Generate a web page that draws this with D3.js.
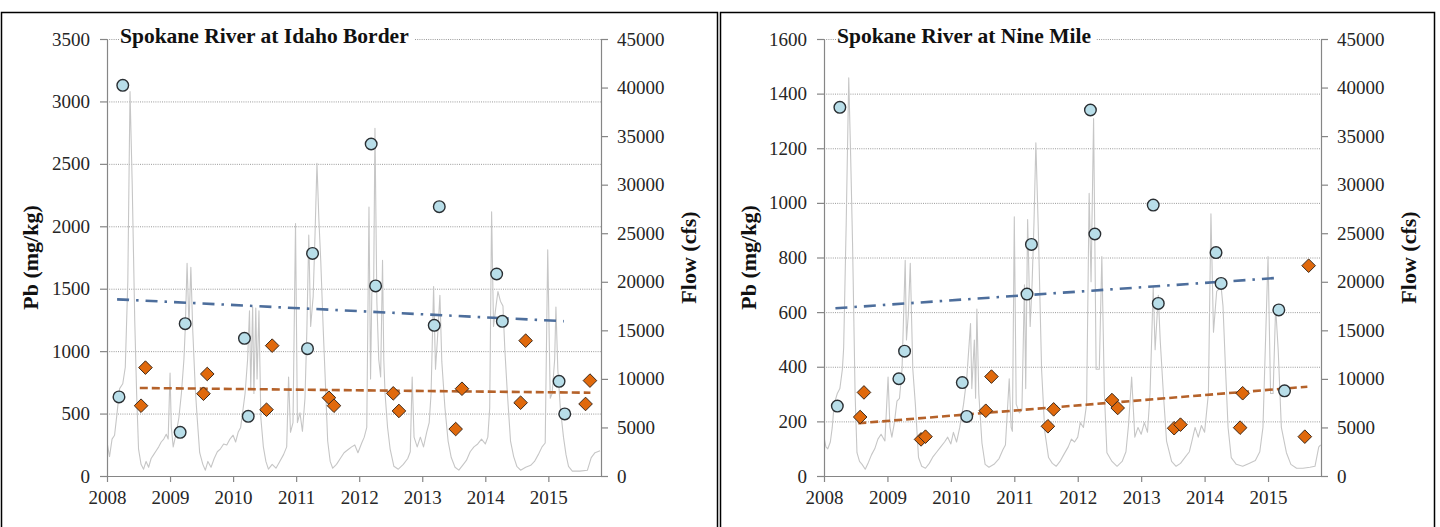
<!DOCTYPE html>
<html>
<head>
<meta charset="utf-8">
<script src="https://cdn.jsdelivr.net/npm/d3@7"></script>
<style>
  body { margin: 0; background: #fff; }
  svg { display: block; }
</style>
</head>
<body>
<svg id="chart" width="1440" height="527"></svg>
<script>
// ---------- data ----------
const yearTicks = [2008, 2009, 2010, 2011, 2012, 2013, 2014, 2015];
const flowTicks = [0, 5000, 10000, 15000, 20000, 25000, 30000, 35000, 40000, 45000];
const idahoPbTicks = [0, 500, 1000, 1500, 2000, 2500, 3000, 3500];
const nineMilePbTicks = [0, 200, 400, 600, 800, 1000, 1200, 1400, 1600];

// Spring (circle) and summer (diamond) Pb samples, mg/kg, dates in decimal years
const idahoSpringDates = [2008.19, 2008.25, 2009.16, 2009.24, 2010.18, 2010.24, 2011.18, 2011.26,
                          2012.19, 2012.26, 2013.19, 2013.27, 2014.18, 2014.27, 2015.17, 2015.26];
const idahoSpringPb    = [633, 3129, 350, 1220, 1103, 478, 1020, 1783,
                          2659, 1522, 1207, 2157, 1618, 1239, 758, 497];
const idahoSummerDates = [2008.54, 2008.61, 2009.53, 2009.59, 2010.53, 2010.62, 2011.52, 2011.60,
                          2012.54, 2012.63, 2013.53, 2013.63, 2014.56, 2014.64, 2015.59, 2015.66];
const idahoSummerPb    = [563, 868, 659, 817, 531, 1044, 627, 563,
                          662, 521, 376, 699, 587, 1084, 577, 764];

const nineMileSpringDates = [2008.21, 2008.25, 2009.18, 2009.27, 2010.18, 2010.25, 2011.20, 2011.27,
                             2012.20, 2012.27, 2013.19, 2013.27, 2014.18, 2014.26, 2015.17, 2015.26];
const nineMileSpringPb    = [256, 1350, 356, 457, 342, 218, 666, 848,
                             1340, 886, 992, 632, 818, 705, 608, 312];
const nineMileSummerDates = [2008.57, 2008.63, 2009.53, 2009.60, 2010.55, 2010.64, 2011.53, 2011.62,
                             2012.54, 2012.63, 2013.52, 2013.62, 2014.56, 2014.60, 2015.58, 2015.64];
const nineMileSummerPb    = [216, 306, 134, 144, 239, 364, 182, 244,
                             278, 249, 175, 188, 177, 303, 144, 770];

// Linear trend lines [start, end] as [date, Pb]
const idahoSpringTrend    = [[2008.16, 1415], [2015.245, 1240]];
const idahoSummerTrend    = [[2008.52, 705], [2015.667, 667]];
const nineMileSpringTrend = [[2008.18, 614], [2015.195, 726]];
const nineMileSummerTrend = [[2008.54, 193], [2015.62, 327]];

// River flow, cfs, [date, flow]
const idahoFlow = [
  [2008.00,3500],[2008.04,2000],[2008.08,3800],[2008.12,4200],[2008.16,6500],[2008.20,9000],
  [2008.25,9500],[2008.29,11200],[2008.33,20000],[2008.365,39600],[2008.40,30000],[2008.44,16000],
  [2008.47,8500],[2008.50,2800],[2008.54,1200],[2008.58,700],[2008.62,1500],[2008.66,900],
  [2008.70,1800],[2008.74,2200],[2008.78,2600],[2008.82,3000],[2008.86,3500],[2008.90,3800],
  [2008.94,4300],[2008.97,3800],[2009.00,10600],[2009.02,5000],[2009.05,3000],[2009.10,4500],
  [2009.14,6000],[2009.18,8500],[2009.22,12000],[2009.24,15000],[2009.27,21900],[2009.30,15500],
  [2009.33,21500],[2009.36,15000],[2009.40,9000],[2009.43,6000],[2009.47,2400],[2009.52,1200],
  [2009.56,600],[2009.60,1500],[2009.65,900],[2009.70,1800],[2009.75,2500],[2009.80,2800],
  [2009.85,3300],[2009.90,3200],[2009.95,3800],[2010.00,4200],[2010.04,3500],[2010.08,4500],
  [2010.12,5000],[2010.16,7000],[2010.19,8500],[2010.23,12000],[2010.26,17000],[2010.28,9000],
  [2010.31,17400],[2010.33,8500],[2010.36,17300],[2010.38,10000],[2010.41,17000],[2010.44,6000],
  [2010.48,3000],[2010.52,1500],[2010.56,700],[2010.62,1200],[2010.68,800],[2010.74,1500],
  [2010.80,2200],[2010.85,3000],[2010.88,10200],[2010.91,4500],[2010.95,5500],[2010.99,26000],
  [2011.02,5500],[2011.06,6500],[2011.10,4600],[2011.14,8000],[2011.17,15000],[2011.20,24800],
  [2011.23,15400],[2011.27,18500],[2011.30,25000],[2011.33,32200],[2011.36,26500],[2011.39,22200],
  [2011.43,15000],[2011.46,10200],[2011.50,3600],[2011.54,1500],[2011.58,800],[2011.64,1200],
  [2011.70,1800],[2011.76,2400],[2011.82,2700],[2011.88,3000],[2011.93,3200],[2011.98,2400],
  [2012.04,3400],[2012.08,4000],[2012.12,5000],[2012.155,27700],[2012.18,10000],[2012.20,18800],
  [2012.23,20000],[2012.25,35800],[2012.28,18000],[2012.31,12000],[2012.34,10200],[2012.37,22200],
  [2012.39,12000],[2012.41,8500],[2012.45,5000],[2012.49,2800],[2012.55,1000],[2012.62,700],
  [2012.70,1200],[2012.77,1800],[2012.81,2500],[2012.84,10200],[2012.87,4000],[2012.92,3000],
  [2012.97,4000],[2013.02,3000],[2013.07,4500],[2013.11,5500],[2013.14,8500],[2013.18,19500],
  [2013.21,11000],[2013.24,14000],[2013.28,18600],[2013.31,11800],[2013.36,7000],[2013.41,3600],
  [2013.46,1900],[2013.52,900],[2013.58,600],[2013.64,1100],[2013.70,1600],[2013.76,2500],
  [2013.82,3000],[2013.88,3300],[2013.94,3800],[2014.00,3300],[2014.04,4000],[2014.07,7000],
  [2014.10,27200],[2014.13,15400],[2014.16,17000],[2014.20,19000],[2014.24,18000],[2014.28,17500],
  [2014.31,13000],[2014.35,8500],[2014.40,3600],[2014.45,2000],[2014.50,1000],[2014.56,600],
  [2014.64,900],[2014.72,1100],[2014.78,1500],[2014.84,2200],[2014.90,3000],[2014.95,3400],
  [2014.99,23300],[2015.03,8000],[2015.06,8500],[2015.10,12000],[2015.12,17400],[2015.15,11000],
  [2015.19,7000],[2015.24,4000],[2015.28,2200],[2015.32,1000],[2015.38,500],[2015.50,500],
  [2015.62,600],[2015.68,1900],[2015.74,2400],[2015.82,2600]
];

const nineMileFlow = [
  [2008.00,4000],[2008.03,3000],[2008.06,2800],[2008.10,3500],[2008.13,5000],[2008.16,7400],
  [2008.21,8500],[2008.25,9000],[2008.29,11000],[2008.31,13200],[2008.35,26000],[2008.39,41000],
  [2008.42,33000],[2008.45,24000],[2008.49,8500],[2008.52,2400],[2008.56,1500],[2008.60,1200],
  [2008.65,700],[2008.70,1400],[2008.75,2200],[2008.80,2800],[2008.85,3800],[2008.90,4300],
  [2008.96,3600],[2009.01,10200],[2009.04,5000],[2009.07,4000],[2009.11,5500],[2009.15,7700],
  [2009.19,8000],[2009.23,11000],[2009.28,22200],[2009.30,14000],[2009.33,16700],[2009.36,21900],
  [2009.40,11000],[2009.44,7400],[2009.49,1900],[2009.54,1000],[2009.60,800],[2009.66,1300],
  [2009.72,2000],[2009.78,2500],[2009.84,3000],[2009.90,3500],[2009.95,4000],[2010.00,3300],
  [2010.04,4500],[2010.09,3500],[2010.14,5000],[2010.20,7400],[2010.25,10000],[2010.31,15700],
  [2010.33,9000],[2010.37,14000],[2010.39,8000],[2010.41,17200],[2010.44,8500],[2010.49,3400],
  [2010.54,1200],[2010.60,900],[2010.68,1200],[2010.76,1800],[2010.82,2700],[2010.86,3200],
  [2010.92,10000],[2010.95,5000],[2010.97,4600],[2011.00,26700],[2011.03,7400],[2011.08,6500],
  [2011.12,6800],[2011.16,19700],[2011.18,9000],[2011.21,26400],[2011.25,15400],[2011.28,19700],
  [2011.31,26000],[2011.34,34300],[2011.38,25000],[2011.43,11000],[2011.48,4600],[2011.54,1900],
  [2011.60,1300],[2011.66,1000],[2011.72,1500],[2011.78,2200],[2011.85,3000],[2011.90,3800],
  [2011.95,3500],[2012.00,4000],[2012.04,5500],[2012.09,5000],[2012.14,7400],[2012.18,29100],
  [2012.21,20000],[2012.25,36800],[2012.29,11000],[2012.34,11000],[2012.38,22600],[2012.42,8500],
  [2012.46,2400],[2012.54,1500],[2012.62,1000],[2012.70,1500],[2012.76,2500],[2012.80,5200],
  [2012.85,10200],[2012.90,4000],[2012.95,5000],[2013.00,4300],[2013.05,5500],[2013.10,4500],
  [2013.14,8500],[2013.19,19500],[2013.22,13000],[2013.27,18600],[2013.30,14000],[2013.35,8500],
  [2013.40,3600],[2013.48,1500],[2013.55,1000],[2013.62,1300],[2013.70,2000],[2013.76,2500],
  [2013.80,3600],[2013.85,5000],[2013.90,4000],[2013.95,5200],[2014.00,4500],[2014.06,8500],
  [2014.10,27000],[2014.14,14800],[2014.19,19000],[2014.26,19500],[2014.29,17500],[2014.33,11000],
  [2014.37,5000],[2014.42,1900],[2014.50,1200],[2014.60,1000],[2014.70,1300],[2014.80,1600],
  [2014.87,2500],[2014.92,5000],[2015.00,22600],[2015.04,8500],[2015.08,8500],[2015.12,17400],
  [2015.16,13000],[2015.21,5000],[2015.29,2400],[2015.36,1200],[2015.45,800],[2015.55,800],
  [2015.66,900],[2015.74,1000],[2015.80,3000],[2015.83,3200]
];

// ---------- layout ----------
const panels = [
  {
    title: "Spokane River at Idaho Border",
    frame: { x: 1, y: 12, w: 716, h: 530 },
    plot: { left: 107, right: 601, top: 39, bottom: 476 },
    pbTicks: idahoPbTicks,
    springDates: idahoSpringDates, springPb: idahoSpringPb,
    summerDates: idahoSummerDates, summerPb: idahoSummerPb,
    springTrend: idahoSpringTrend, summerTrend: idahoSummerTrend,
    flow: idahoFlow,
    pbLabelX: 30, flowLabelX: 688
  },
  {
    title: "Spokane River at Nine Mile",
    frame: { x: 720, y: 12, w: 714, h: 530 },
    plot: { left: 824, right: 1321, top: 39, bottom: 476 },
    pbTicks: nineMilePbTicks,
    springDates: nineMileSpringDates, springPb: nineMileSpringPb,
    summerDates: nineMileSummerDates, summerPb: nineMileSummerPb,
    springTrend: nineMileSpringTrend, summerTrend: nineMileSummerTrend,
    flow: nineMileFlow,
    pbLabelX: 748, flowLabelX: 1408
  }
];

const X_DOMAIN = [2008, 2015.835];
const SERIF = "'Liberation Serif', 'Times New Roman', serif";
const AXIS_COLOR = "#868686";
const TEXT_COLOR = "#262626";

const svg = d3.select("#chart");

panels.forEach((p, i) => {
  const g = svg.append("g");
  const P = p.plot;

  // panel frame
  g.append("rect")
    .attr("x", p.frame.x + 0.5).attr("y", p.frame.y + 0.5)
    .attr("width", p.frame.w).attr("height", p.frame.h)
    .attr("fill", "#fff").attr("stroke", "#000").attr("stroke-width", 1.5);

  const x = d3.scaleLinear().domain(X_DOMAIN).range([P.left, P.right]);
  const pbMax = p.pbTicks[p.pbTicks.length - 1];
  const y = d3.scaleLinear().domain([0, pbMax]).range([P.bottom, P.top]);
  const yFlow = d3.scaleLinear().domain([0, 45000]).range([P.bottom, P.top]);

  // horizontal gridlines at each Pb tick
  g.append("g").selectAll("line")
    .data(p.pbTicks.filter(d => d > 0))
    .join("line")
    .attr("x1", P.left).attr("x2", P.right)
    .attr("y1", d => y(d) + 0.5).attr("y2", d => y(d) + 0.5)
    .attr("stroke", "#8f8f8f").attr("stroke-width", 0.9)
    .attr("stroke-dasharray", "1,1.2");

  // flow hydrograph on the secondary axis
  const clipId = "clip" + i;
  g.append("clipPath").attr("id", clipId)
    .append("rect").attr("x", P.left).attr("y", P.top - 5)
    .attr("width", P.right - P.left).attr("height", P.bottom - P.top + 5);
  g.append("path")
    .datum(p.flow)
    .attr("clip-path", `url(#${clipId})`)
    .attr("fill", "none")
    .attr("stroke", "#c6c6c6")
    .attr("stroke-width", 1.1)
    .attr("stroke-linejoin", "round")
    .attr("d", d3.line().x(d => x(d[0])).y(d => yFlow(d[1])));

  // title with white backing over the top gridline
  const title = g.append("text")
    .attr("x", P.left + 13).attr("y", 43)
    .attr("font-family", SERIF).attr("font-size", 21.5).attr("font-weight", "bold")
    .attr("fill", "#111")
    .text(p.title);
  const bb = title.node().getBBox();
  g.insert("rect", () => title.node())
    .attr("x", bb.x - 1).attr("y", bb.y)
    .attr("width", bb.width + 6).attr("height", bb.height)
    .attr("fill", "#fff");

  // axes
  const styleAxis = sel => {
    sel.selectAll(".domain").attr("stroke", AXIS_COLOR).attr("stroke-width", 1.2);
    sel.selectAll(".tick line").attr("stroke", AXIS_COLOR).attr("stroke-width", 1.2);
    sel.selectAll(".tick text")
      .attr("font-family", SERIF).attr("font-size", 19).attr("fill", TEXT_COLOR);
  };

  g.append("g")
    .attr("transform", `translate(0,${P.bottom})`)
    .call(d3.axisBottom(x).tickValues(yearTicks).tickFormat(d3.format("d"))
      .tickSize(6).tickSizeOuter(0).tickPadding(9))
    .call(styleAxis)
    .call(a => a.select(".domain").attr("d", `M${P.left},0.5H${P.right}`));

  g.append("g")
    .attr("transform", `translate(${P.left},0)`)
    .call(d3.axisLeft(y).tickValues(p.pbTicks).tickFormat(d3.format("d"))
      .tickSize(7).tickSizeOuter(0).tickPadding(10))
    .call(styleAxis);

  g.append("g")
    .attr("transform", `translate(${P.right},0)`)
    .call(d3.axisRight(yFlow).tickValues(flowTicks).tickFormat(d3.format("d"))
      .tickSize(7).tickSizeOuter(0).tickPadding(9))
    .call(styleAxis);

  // axis titles
  const cy = (P.top + P.bottom) / 2;
  g.append("text")
    .attr("transform", `translate(${p.pbLabelX},${cy}) rotate(-90)`)
    .attr("text-anchor", "middle").attr("dy", "0.35em")
    .attr("font-family", SERIF).attr("font-size", 22).attr("font-weight", "bold")
    .attr("fill", "#111")
    .text("Pb (mg/kg)");
  g.append("text")
    .attr("transform", `translate(${p.flowLabelX},${cy}) rotate(-90)`)
    .attr("text-anchor", "middle").attr("dy", "0.35em")
    .attr("font-family", SERIF).attr("font-size", 22).attr("font-weight", "bold")
    .attr("fill", "#111")
    .text("Flow (cfs)");

  // trend lines
  const tl = d3.line().x(d => x(d[0])).y(d => y(d[1]));
  g.append("path").datum(p.springTrend)
    .attr("d", tl).attr("fill", "none")
    .attr("stroke", "#4d6e9c").attr("stroke-width", 2.6)
    .attr("stroke-dasharray", "12,7,2.5,7");
  g.append("path").datum(p.summerTrend)
    .attr("d", tl).attr("fill", "none")
    .attr("stroke", "#b5622a").attr("stroke-width", 2.6)
    .attr("stroke-dasharray", "8,4");

  // summer diamonds
  const dr = 6.8;
  g.append("g").selectAll("path")
    .data(d3.zip(p.summerDates, p.summerPb))
    .join("path")
    .attr("transform", d => `translate(${x(d[0])},${y(d[1])})`)
    .attr("d", `M0,${-dr}L${dr},0L0,${dr}L${-dr},0Z`)
    .attr("fill", "#e0690c").attr("stroke", "#3d2a1c").attr("stroke-width", 1);

  // spring circles
  g.append("g").selectAll("circle")
    .data(d3.zip(p.springDates, p.springPb))
    .join("circle")
    .attr("cx", d => x(d[0])).attr("cy", d => y(d[1]))
    .attr("r", 5.8)
    .attr("fill", "#b8dee9").attr("stroke", "#2a2f33").attr("stroke-width", 1.4);
});
</script>
</body>
</html>
